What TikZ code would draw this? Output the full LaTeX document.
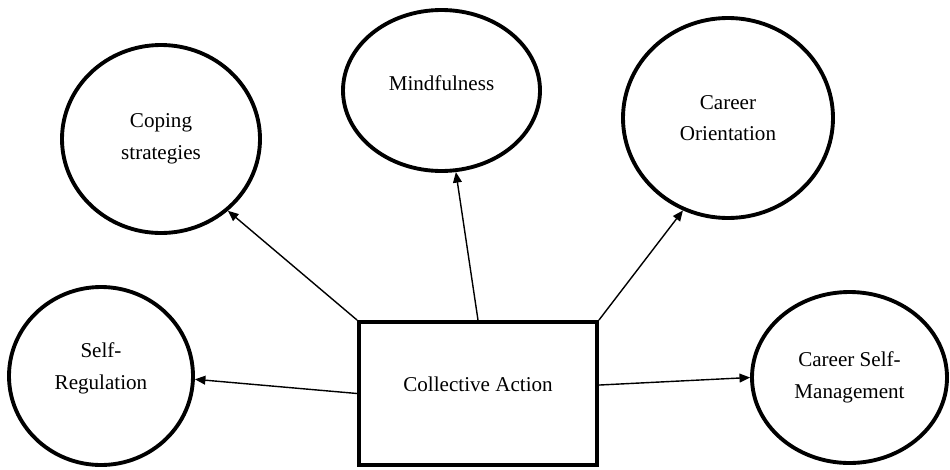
\documentclass[tikz,border=0pt]{standalone}
\usepackage{fontspec}
\setmainfont{Liberation Serif}
\usetikzlibrary{shapes.geometric,arrows.meta}

\begin{document}
\begin{tikzpicture}[
  bubble/.style={ellipse,draw,line width=2.2pt,align=center,inner sep=0pt,font=\fontsize{12}{18}\selectfont},
  hub/.style={rectangle,draw,line width=2.2pt,minimum width=4.76cm,minimum height=2.86cm,font=\fontsize{12}{18}\selectfont},
  link/.style={-{Triangle[length=6pt,width=5pt]},line width=0.8pt}]
\useasboundingbox (0.000,0.000) rectangle (19.000,-9.380);
\node[bubble,minimum width=3.96cm,minimum height=3.76cm] (cope) at (3.220,-2.780) {Coping\\strategies};
\node[bubble,minimum width=3.94cm,minimum height=3.22cm,text depth=9pt] (mind) at (8.830,-1.810) {Mindfulness};
\node[bubble,minimum width=4.20cm,minimum height=4.00cm] (orient) at (14.560,-2.360) {Career\\Orientation};
\node[bubble,minimum width=3.68cm,minimum height=3.56cm,text depth=11pt] (selfreg) at (2.020,-7.520) {Self-\\Regulation};
\node[bubble,minimum width=3.90cm,minimum height=3.42cm] (csm) at (16.990,-7.550) {Career Self-\\Management};
\node[hub,text depth=11pt] (box) at (9.560,-7.870) {Collective Action};
\draw[link] (box.north west) -- (cope.-47);
\draw[link] (box.north) -- (mind.-80);
\draw[link] (box.north east) -- (orient.-116);
\draw[link] (box.west) -- (selfreg.-2);
\draw[link] (box.4) -- (csm.west);
\end{tikzpicture}
\end{document}
